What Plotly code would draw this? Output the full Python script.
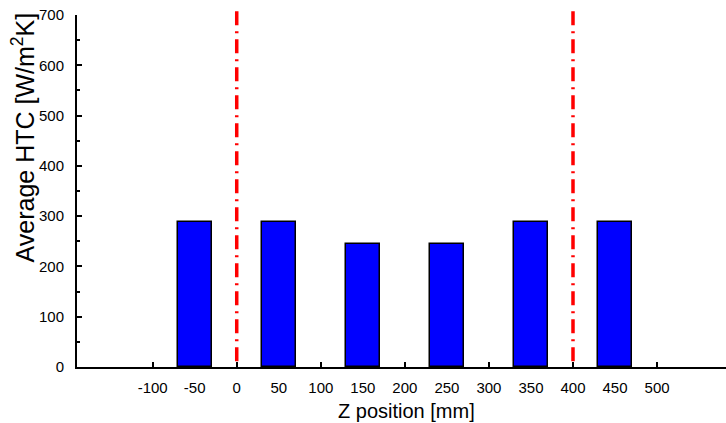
import plotly.graph_objects as go

# Average heat transfer coefficient per zone along the Z axis
z_positions = [-50, 50, 150, 250, 350, 450]
avg_htc = [288, 288, 244, 244, 288, 288]
bar_width = 40

# Boundary markers (mm)
boundaries = [0, 400]

x_tick_vals = [-100, -50, 0, 50, 100, 150, 200, 250, 300, 350, 400, 450, 500]
x_major_marks = [-100, 0, 100, 200, 300, 400, 500]
y_tick_vals = [0, 100, 200, 300, 400, 500, 600, 700]

font_family = "Liberation Sans, Arial, sans-serif"

fig = go.Figure()
fig.add_trace(go.Bar(
    x=z_positions,
    y=avg_htc,
    width=bar_width,
    marker=dict(color="#0000FF", line=dict(color="#000000", width=1.5)),
    showlegend=False,
    xaxis="x",
    yaxis="y",
))

# Invisible trace so the overlaying axis with the major tick marks is drawn
fig.add_trace(go.Scatter(x=[None], y=[None], xaxis="x2", yaxis="y",
                         showlegend=False, hoverinfo="skip"))

# Dash-dot boundary lines, drawn from the top down
for b in boundaries:
    fig.add_shape(
        type="line", xref="x", yref="paper",
        x0=b, x1=b, y0=1.011, y1=0,
        line=dict(color="#FF0000", width=3.5, dash="14px,6px,2px,6px"),
        layer="above",
    )

fig.update_layout(
    width=726, height=423,
    margin=dict(l=77, r=0, t=15, b=56),
    paper_bgcolor="white", plot_bgcolor="white",
    font=dict(family=font_family, size=15, color="#000000"),
    bargap=0,
    xaxis=dict(
        range=[-190, 582],
        tickvals=x_tick_vals,
        ticktext=[str(v) for v in x_tick_vals],
        ticks="", showgrid=False, zeroline=False,
        showline=True, linecolor="#000000", linewidth=2,
        tickfont=dict(size=15),
        ticklabelstandoff=6,
    ),
    xaxis2=dict(
        overlaying="x", matches="x", side="bottom",
        tickvals=x_major_marks, ticks="inside", ticklen=5, tickwidth=2,
        tickcolor="#000000", showticklabels=False, showgrid=False,
        zeroline=False, showline=False,
    ),
    yaxis=dict(
        range=[0, 700],
        tickvals=y_tick_vals,
        ticks="inside", ticklen=5, tickwidth=1.5, tickcolor="#000000",
        minor=dict(dtick=50, ticks="inside", ticklen=3, tickcolor="#000000", showgrid=False),
        showgrid=False, zeroline=False,
        showline=True, linecolor="#000000", linewidth=2,
        tickfont=dict(size=15),
        ticklabelstandoff=8,
    ),
    annotations=[
        dict(text="Z position [mm]", xref="paper", yref="paper",
             x=0.507, y=-0.125, xanchor="center", yanchor="middle",
             showarrow=False, font=dict(size=20)),
        dict(text="Average HTC [W/m<sup>2</sup>K]", xref="paper", yref="paper",
             x=-0.0817, y=0.652, xanchor="center", yanchor="middle",
             textangle=-90, showarrow=False, font=dict(size=25)),
    ],
)

fig.write_html("out.html")
